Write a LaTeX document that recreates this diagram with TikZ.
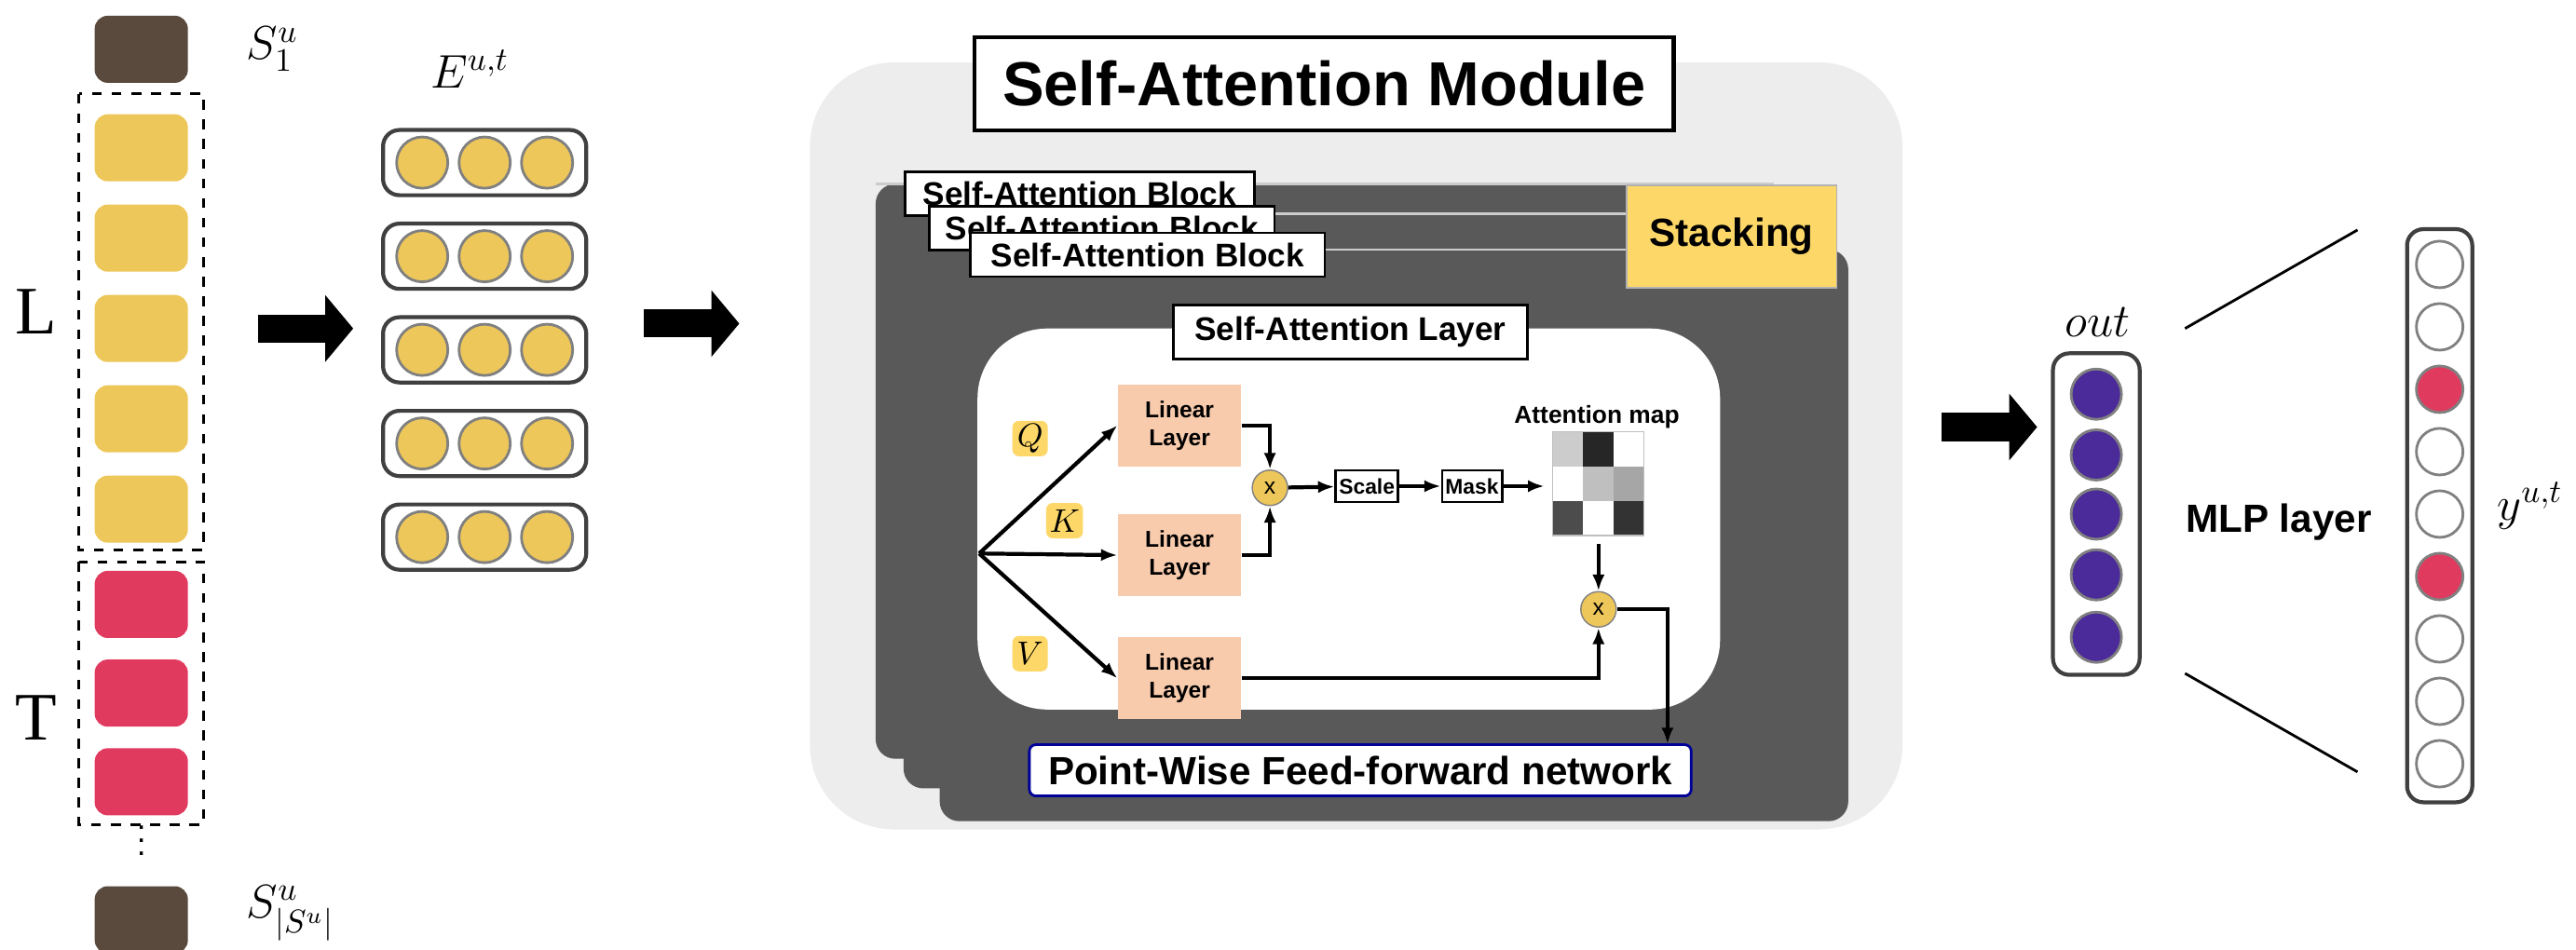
\documentclass[tikz,border=0pt]{standalone}
\usepackage{amssymb}
\usepackage{fontspec}
\setmainfont{Liberation Sans}
\newfontfamily\serif{Liberation Serif}
\usetikzlibrary{arrows.meta,positioning}
\definecolor{brownbox}{HTML}{5A4A3D}
\definecolor{yel}{HTML}{EDC75A}
\definecolor{pinkred}{HTML}{E03A5F}
\definecolor{salmon}{HTML}{F8CBAD}
\definecolor{darkblk}{HTML}{595959}
\definecolor{purp}{HTML}{4B2A9A}
\definecolor{stack}{HTML}{FDD868}
\begin{document}
\begin{tikzpicture}[x=0.01763cm, y=-0.01763cm,
    item/.style = {rounded corners=4pt, minimum width=1cm, minimum height=0.72cm, inner sep=0pt},
    cell/.style = {circle, draw=gray, thick, fill=yel, minimum size=0.55cm, inner sep=0pt},
    lbl/.style = {draw, thick, fill=white, font=\bfseries\fontsize{10}{12}\selectfont, inner sep=3pt},
    lin/.style = {fill=salmon, minimum width=1.32cm, minimum height=0.88cm, align=center, font=\bfseries\fontsize{7}{8.5}\selectfont, inner sep=0pt},
    tag/.style = {fill=stack, rounded corners=2pt, minimum size=0.38cm, inner sep=1pt},
    mul/.style = {circle, draw=gray, fill=yel, minimum size=0.38cm, inner sep=0pt, font=\fontsize{7}{8}\selectfont},
    op/.style = {draw, thick, minimum width=0.56cm, minimum height=0.34cm, inner sep=1pt, font=\bfseries\fontsize{6.5}{7.5}\selectfont},
    big/.style = {-{Triangle[length=0.3cm,width=0.7cm]}, line width=0.3cm},
    ar/.style = {-{Latex[length=5pt]}, very thick}]
\useasboundingbox (0,0) rectangle (1568,578);
% input sequence
\node[item, fill=brownbox] (s1) at (86,30) {};
\node[right=0.5cm of s1] (s1l) {\Large $S^u_1$};
\foreach \i/\y in {1/90,2/145,3/200,4/255,5/310}
    \node[item, fill=yel] (l\i) at (86,\y) {};
\foreach \i/\y in {1/368,2/422,3/476}
    \node[item, fill=pinkred] (t\i) at (86,\y) {};
\draw[thick, dashed] (48,57) rectangle (124,335);
\draw[thick, dashed] (48,342) rectangle (124,502);
\node at (86,506) {$\vdots$};
\node[item, fill=brownbox] (s2) at (86,560) {};
\node[right=0.5cm of s2, yshift=2pt] (s2l) {\Large $S^u_{|S^u|}$};
\node at (22,190) {\serif\huge L};
\node at (22,437) {\serif\huge T};
% embedding
\node at (286,42) {\Large $E^{u,t}$};
\foreach \r/\y in {1/99,2/156,3/213,4/270,5/327} {
    \node[draw=black!75, very thick, rounded corners=5pt, minimum width=2.18cm, minimum height=0.7cm] (e\r) at (295,\y) {};
    \foreach \c/\x in {1/257,2/295,3/333}
        \node[cell] at (\x,\y) {};
}
\coordinate (a1s) at (157,200); \coordinate (a1e) at (215,200);
\draw[big] (a1s) -- (a1e);
\coordinate (a2s) at (392,197); \coordinate (a2e) at (450,197);
\draw[big] (a2s) -- (a2e);
% module
\fill[black!7, rounded corners=0.9cm] (493,38) rectangle (1158,505);
\node[draw, very thick, fill=white, minimum width=7.5cm, minimum height=1cm, font=\bfseries\fontsize{19}{23}\selectfont] (title) at (806,51) {Self-Attention Module};
\fill[darkblk, rounded corners=6pt] (533,112) rectangle (1080,462);
\draw[white!80!black, thick] (533,112) -- (1080,112);
\fill[darkblk, rounded corners=6pt] (550,130) rectangle (1100,480);
\draw[white!80!black, thick] (565,130) -- (1100,130);
\fill[darkblk, rounded corners=6pt] (572,152) rectangle (1125,500);
\draw[white!80!black, thick] (590,152) -- (1118,152);
\node[fill=stack, draw=white!70!black, minimum width=2.25cm, minimum height=1.1cm, font=\bfseries\fontsize{12}{14}\selectfont] (stk) at (1054,144) {Stacking};
\node[lbl, minimum width=3.75cm, anchor=north west] (b1) at (550,104) {Self-Attention Block};
\node[lbl, minimum width=3.7cm, anchor=north west] (b2) at (565,125) {Self-Attention Block};
\node[lbl, minimum width=3.8cm, anchor=north west] (b3) at (590,141) {Self-Attention Block};
% layer
\fill[white, rounded corners=0.75cm] (595,200) rectangle (1047,432);
\node[lbl, minimum width=3.8cm, minimum height=0.58cm] (lay) at (822,202) {Self-Attention Layer};
\coordinate (src) at (596,337);
\node[lin] (lq) at (718,259) {Linear\\Layer};
\node[lin] (lk) at (718,338) {Linear\\Layer};
\node[lin] (lv) at (718,413) {Linear\\Layer};
\node[tag] (q) at (627,267) {$Q$};
\node[tag] (k) at (648,317) {$K$};
\node[tag] (v) at (627,398) {$V$};
\draw[ar] (src) -- (lq.west);
\draw[ar] (src) -- (lk.west);
\draw[ar] (src) -- (lv.west);
\node[mul] (m1) at (773,297) {x};
\node[op] (sc) at (832,296) {Scale};
\node[op] (mk) at (896,296) {Mask};
\draw[ar] (lq.east) -| (m1.north);
\draw[ar] (lk.east) -| (m1.south);
\draw[ar] (m1) -- (sc);
\draw[ar] (sc) -- (mk);
% attention map
\foreach \i/\j/\g in {0/0/20,1/0/85,2/0/0,0/1/0,1/1/25,2/1/35,0/2/70,1/2/0,2/2/80}
    \fill[black!\g] (945+\i*18.5,263+\j*21) rectangle ++(18.5,21);
\draw[white!75!black] (945,263) rectangle (1000.5,326);
\node[font=\bfseries\fontsize{7.5}{9}\selectfont] (amap) at (972,254) {Attention map};
\coordinate (gin) at (940,296);
\draw[ar] (mk) -- (gin);
\node[mul] (m2) at (973,371) {x};
\draw[ar] (973,331) -- (m2);
\draw[ar] (lv.east) -| (m2.south);
\node[draw=blue!60!black, thick, fill=white, rounded corners=2pt, minimum width=7.1cm, minimum height=0.55cm, font=\bfseries\fontsize{12}{14}\selectfont] (ffn) at (828,469) {Point-Wise Feed-forward network};
\draw[ar] (m2.east) -- (1015,371) -- (1015,453);
% output
\coordinate (a3s) at (1182,260); \coordinate (a3e) at (1240,260);
\draw[big] (a3s) -- (a3e);
\node at (1277,196) {\Large $out$};
\node[draw=black!75, very thick, rounded corners=5pt, minimum width=0.93cm, minimum height=3.45cm] (outv) at (1276,313) {};
\foreach \y in {240,277,313,350,388}
    \node[circle, draw=gray, thick, fill=purp, minimum size=0.54cm, inner sep=0pt] at (1276,\y) {};
\node[draw=black!75, very thick, rounded corners=5pt, minimum width=0.7cm, minimum height=6.15cm] (yv) at (1485,314) {};
\foreach \i/\y in {1/161,2/199,3/237,4/275,5/313,6/351,7/389,8/427,9/465} {
    \ifnum\i=3 \def\cc{pinkred}\else\ifnum\i=6 \def\cc{pinkred}\else\def\cc{white}\fi\fi
    \node[circle, draw=gray, thick, fill=\cc, minimum size=0.5cm, inner sep=0pt] at (1485,\y) {};
}
\draw[thick] (1330,200) -- (1435,140);
\draw[thick] (1330,410) -- (1435,470);
\node[font=\bfseries\fontsize{12}{14}\selectfont] (mlp) at (1387,318) {MLP layer};
\node at (1540,308) {\Large $y^{u,t}$};
\end{tikzpicture}
\end{document}
